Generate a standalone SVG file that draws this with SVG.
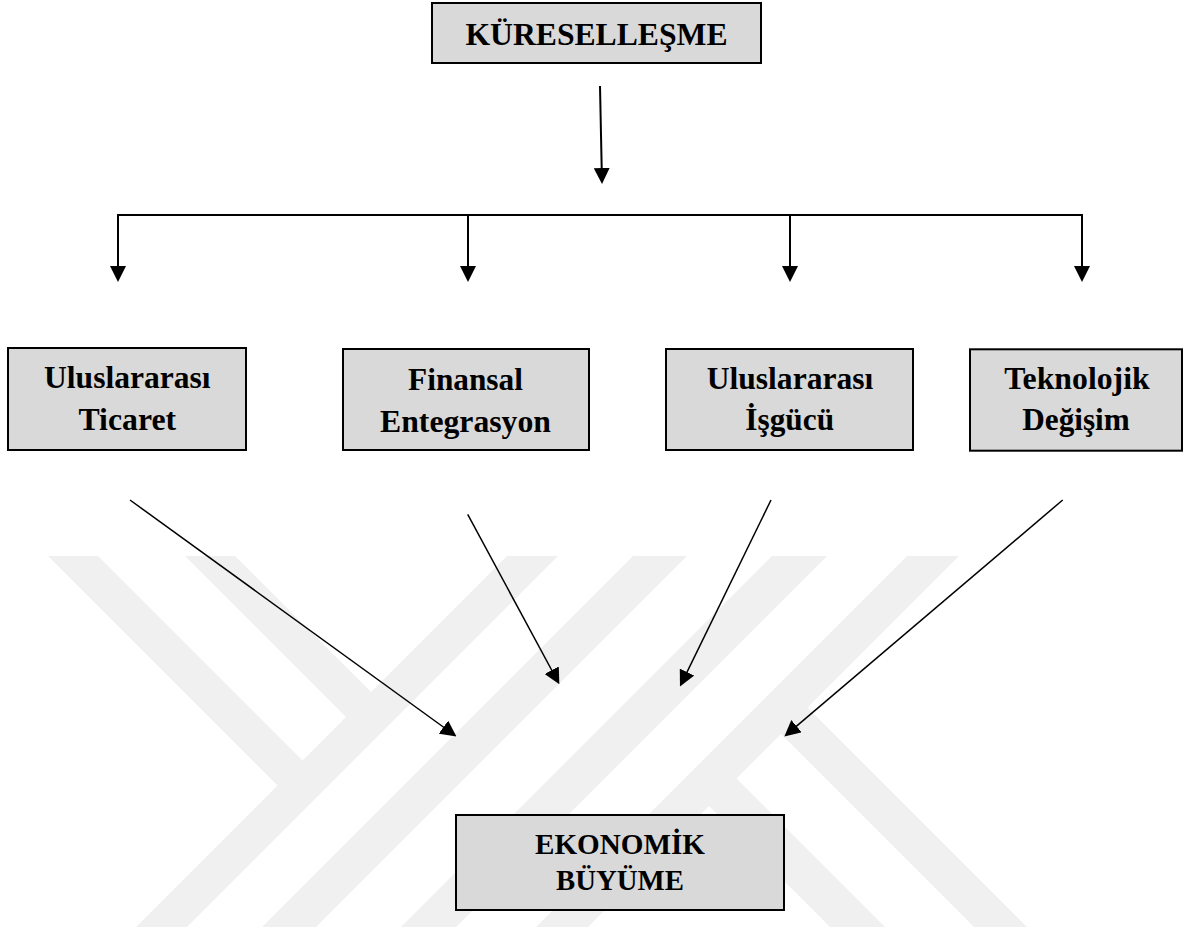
<svg xmlns="http://www.w3.org/2000/svg" width="1187" height="927" viewBox="0 0 1187 927">
<defs>
<style>
.wm{fill:#f0f0f0;stroke:none}
.box{fill:#d9d9d9;stroke:#000;stroke-width:2}
.t{font-family:"Liberation Serif","Times New Roman",serif;font-weight:bold;fill:#000;text-anchor:middle}
.tree{stroke:#000;stroke-width:2;fill:none}
.diag{stroke:#000;stroke-width:1.5;fill:none}
</style>
<marker id="ah" viewBox="0 0 16 16" refX="10" refY="8" markerWidth="16" markerHeight="16" markerUnits="userSpaceOnUse" orient="auto">
<path d="M0,0 L16,8 L0,16 z" fill="#000"/>
</marker>
</defs>
<rect width="1187" height="927" fill="#fff"/>
<g id="watermark">
<polygon class="wm" points="48,556 98,556 315,773 290,798"/>
<polygon class="wm" points="185,556 235,556 383.5,704.5 358.5,729.5"/>
<polygon class="wm" points="507,556 558,556 187,927 136,927"/>
<polygon class="wm" points="633,556 687,556 316,927 262,927"/>
<polygon class="wm" points="772,556 827,556 456,927 401,927"/>
<polygon class="wm" points="907,556 959,556 588,927 536,927"/>
<polygon class="wm" points="794.5,694.5 1027,927 974,927 768,721"/>
<polygon class="wm" points="723.5,765.5 885,927 830,927 696,793"/>
</g>
<g id="connectors">
<line class="tree" x1="600" y1="86" x2="601.9" y2="178" marker-end="url(#ah)"/>
<line class="tree" x1="117" y1="215" x2="1083" y2="215"/>
<line class="tree" x1="118" y1="214" x2="118" y2="276" marker-end="url(#ah)"/>
<line class="tree" x1="468" y1="214" x2="468" y2="276" marker-end="url(#ah)"/>
<line class="tree" x1="790" y1="214" x2="790" y2="276" marker-end="url(#ah)"/>
<line class="tree" x1="1082" y1="214" x2="1082" y2="276" marker-end="url(#ah)"/>
<line class="diag" x1="130" y1="500" x2="451.6" y2="733" marker-end="url(#ah)"/>
<line class="diag" x1="467.7" y1="514.3" x2="556.5" y2="679" marker-end="url(#ah)"/>
<line class="diag" x1="771" y1="500" x2="682.6" y2="681.1" marker-end="url(#ah)"/>
<line class="diag" x1="1062.7" y1="500" x2="788.9" y2="732.6" marker-end="url(#ah)"/>
</g>
<g id="kuresellesme">
<rect class="box" x="432" y="3" width="329" height="60"/>
<text class="t" x="596.5" y="45" font-size="32" textLength="262" lengthAdjust="spacingAndGlyphs">KÜRESELLEŞME</text>
</g>
<g id="uluslararasi-ticaret">
<rect class="box" x="8" y="348" width="238" height="102"/>
<text class="t" x="127.3" y="388.3" font-size="32" textLength="166.5" lengthAdjust="spacingAndGlyphs">Uluslararası</text>
<text class="t" x="127.3" y="430" font-size="32" textLength="97.6" lengthAdjust="spacingAndGlyphs">Ticaret</text>
</g>
<g id="finansal-entegrasyon">
<rect class="box" x="343" y="349" width="246" height="101"/>
<text class="t" x="465.5" y="390" font-size="32" textLength="114.8" lengthAdjust="spacingAndGlyphs">Finansal</text>
<text class="t" x="465.5" y="431.7" font-size="32" textLength="171" lengthAdjust="spacingAndGlyphs">Entegrasyon</text>
</g>
<g id="uluslararasi-isgucu">
<rect class="box" x="666" y="349" width="247" height="101"/>
<text class="t" x="790" y="389.3" font-size="32" textLength="166.6" lengthAdjust="spacingAndGlyphs">Uluslararası</text>
<text class="t" x="789.7" y="430" font-size="32" textLength="88.7" lengthAdjust="spacingAndGlyphs">İşgücü</text>
</g>
<g id="teknolojik-degisim">
<rect class="box" x="970" y="349.3" width="212" height="101.4"/>
<text class="t" x="1077" y="389.3" font-size="32" textLength="145.3" lengthAdjust="spacingAndGlyphs">Teknolojik</text>
<text class="t" x="1076" y="430" font-size="32" textLength="107.5" lengthAdjust="spacingAndGlyphs">Değişim</text>
</g>
<g id="ekonomik-buyume">
<rect class="box" x="456" y="815" width="328" height="95"/>
<text class="t" x="620" y="853.7" font-size="29" textLength="170" lengthAdjust="spacingAndGlyphs">EKONOMİK</text>
<text class="t" x="620" y="890.3" font-size="29" textLength="128" lengthAdjust="spacingAndGlyphs">BÜYÜME</text>
</g>
</svg>
